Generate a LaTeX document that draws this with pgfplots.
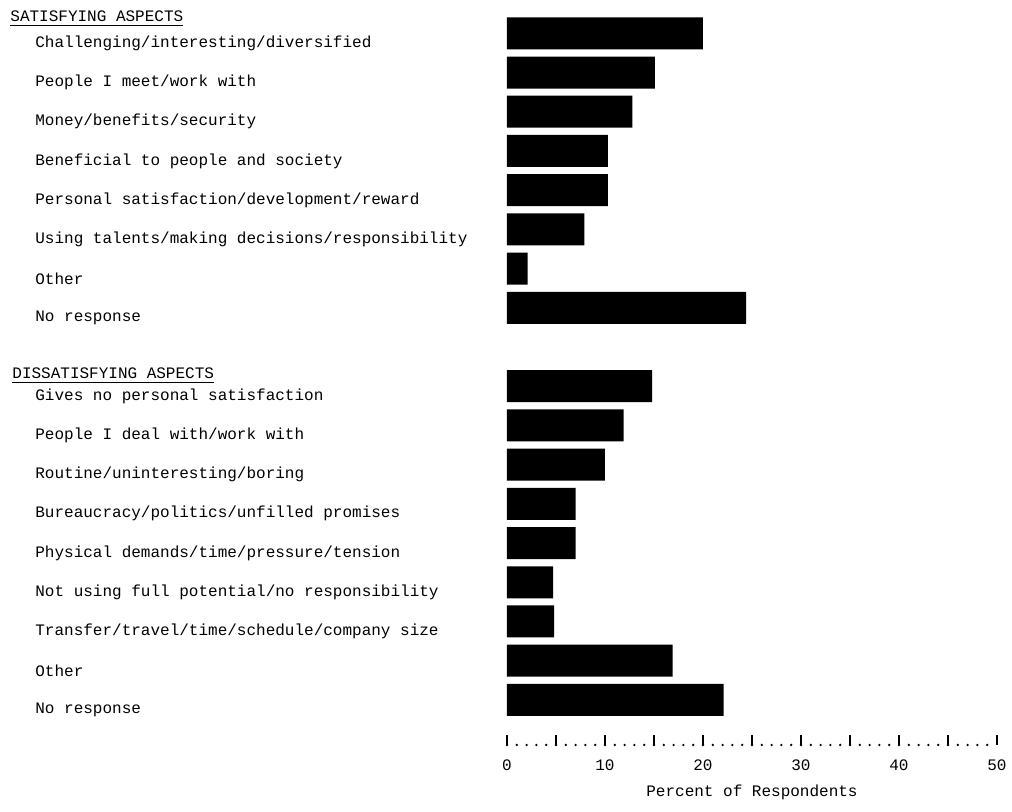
\documentclass[border=0pt]{standalone}
\usepackage{pgfplots}
\pgfplotsset{compat=1.18}
\usepackage{fontspec}
\setmainfont{Liberation Mono}
\begin{document}
\fontsize{8}{10}\selectfont
\begin{tikzpicture}
\useasboundingbox (0,0) rectangle (506pt,406pt);
\begin{axis}[
  at={(253.5pt,33.5pt)}, anchor=south west,
  scale only axis, width=245pt, height=372.5pt,
  xmin=0, xmax=50, ymin=-18.15, ymax=0.85,
  enlargelimits=false, clip=false,
  axis x line=bottom, axis y line=left,
  x axis line style={-, line width=1.3pt, line cap=round, dash pattern=on 0pt off 4.9pt},
  y axis line style={draw=none},
  xtick={0,5,...,50},
  xticklabels={0,,10,,20,,30,,40,,50},
  tick align=inside,
  major x tick style={line width=1.2pt, black},
  major tick length=5pt,
  xticklabel style={yshift=-4.5pt},
  /pgf/number format/assume math mode=true,
  ytick={0,-1,-2,-3,-4,-5,-6,-7,-9,-10,-11,-12,-13,-14,-15,-16,-17},
  yticklabels={Challenging/interesting/diversified,
    People I meet/work with,
    Money/benefits/security,
    Beneficial to people and society,
    Personal satisfaction/development/reward,
    Using talents/making decisions/responsibility,
    Other,
    No response,
    Gives no personal satisfaction,
    People I deal with/work with,
    Routine/uninteresting/boring,
    Bureaucracy/politics/unfilled promises,
    Physical demands/time/pressure/tension,
    Not using full potential/no responsibility,
    Transfer/travel/time/schedule/company size,
    Other,
    No response},
  yticklabel style={anchor=west, inner sep=0pt, xshift=-231pt, yshift=-5pt},
  major y tick style={draw=none},
  xlabel={Percent of Respondents},
  xlabel style={at={(axis description cs:0.5,0)}, anchor=center, yshift=-23.5pt},
  xbar, bar width=16pt,
]
\addplot[fill=black, draw=none] coordinates {
  (20.0,0) (15.1,-1) (12.8,-2) (10.3,-3) (10.3,-4) (7.9,-5) (2.1,-6) (24.4,-7)
  (14.8,-9) (11.9,-10) (10.0,-11) (7.0,-12) (7.0,-13) (4.7,-14) (4.8,-15) (16.9,-16) (22.1,-17)
};
\end{axis}
\node[anchor=base west, inner sep=0pt] at (5pt,395pt) {\underline{SATISFYING ASPECTS}};
\node[anchor=base west, inner sep=0pt] at (6pt,216.5pt) {\underline{DISSATISFYING ASPECTS}};
\end{tikzpicture}
\end{document}
